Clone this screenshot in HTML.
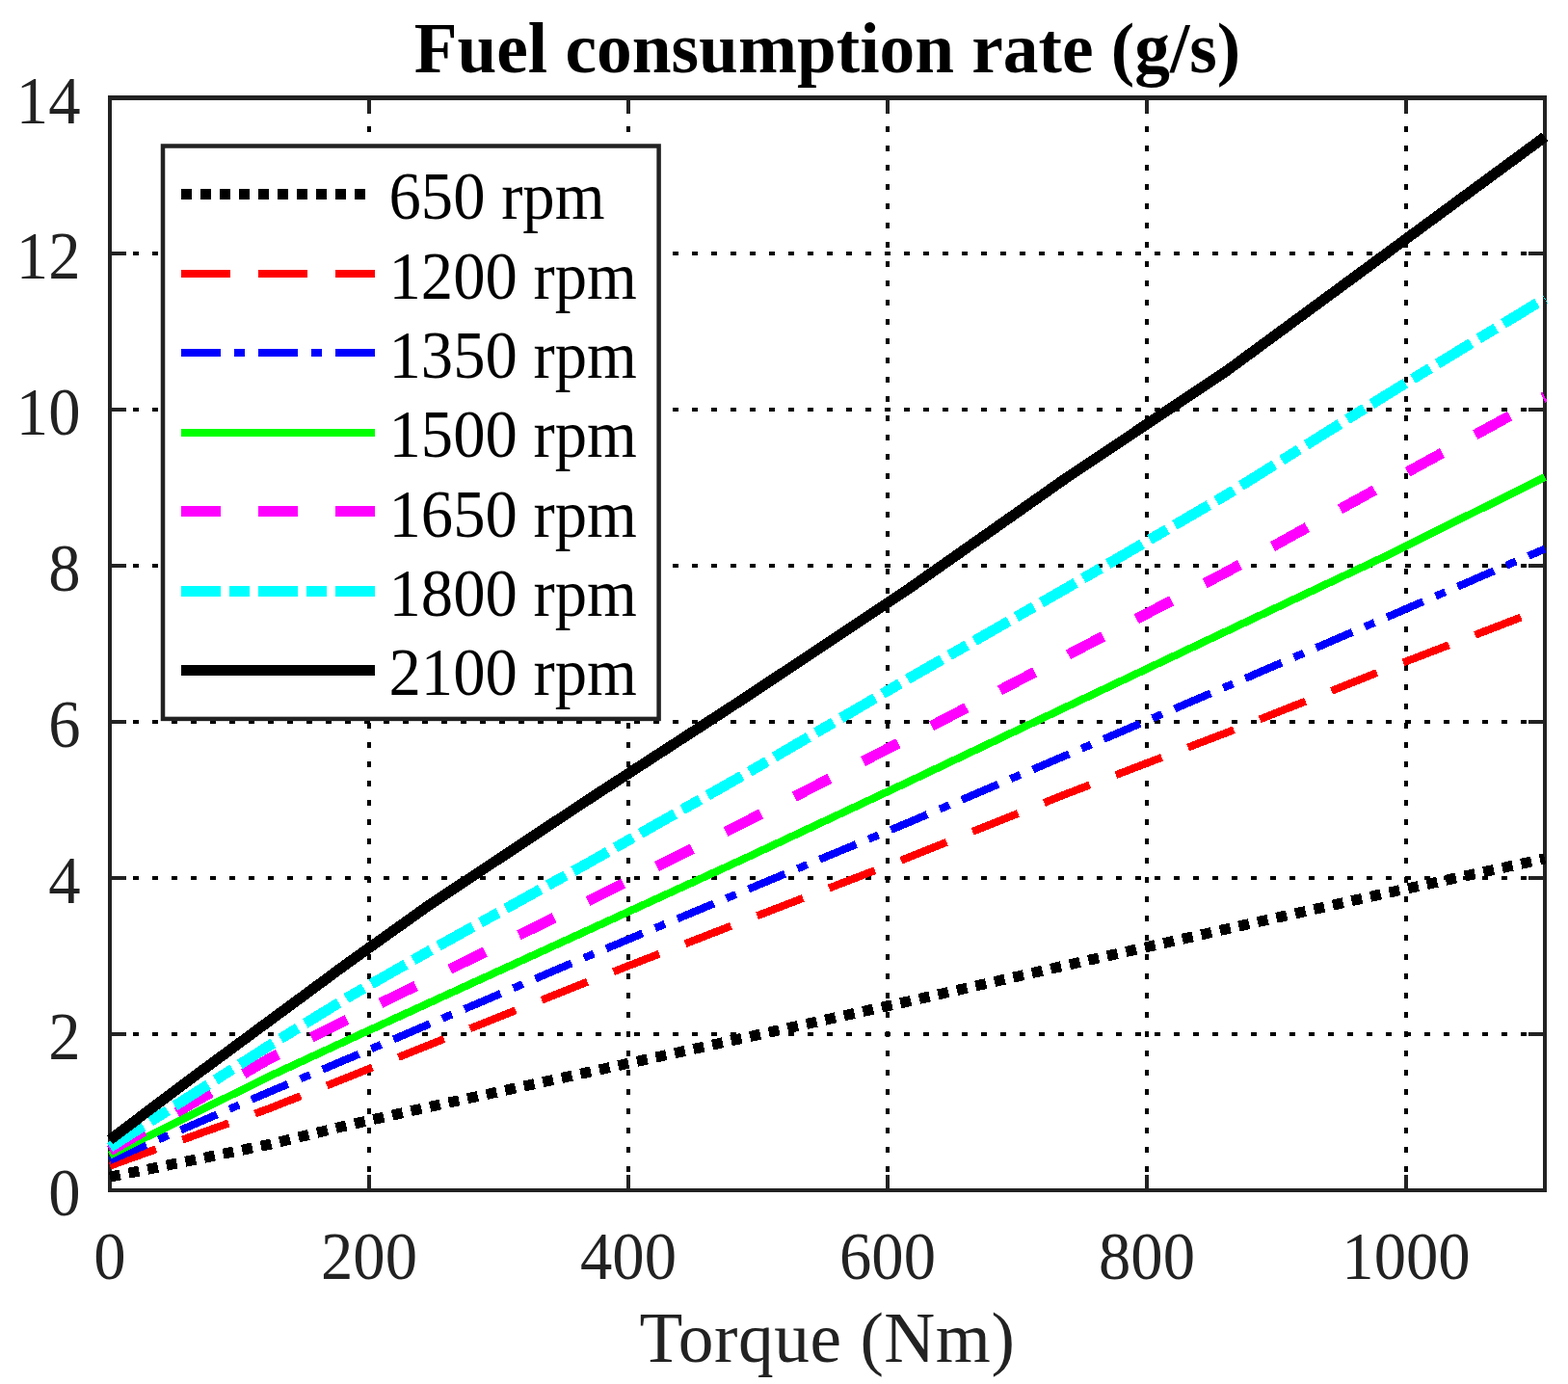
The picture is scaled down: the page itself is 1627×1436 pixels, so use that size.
<!DOCTYPE html>
<html><head><meta charset="utf-8"><title>Fuel consumption rate (g/s)</title>
<style>
html,body{margin:0;padding:0;background:#fff;}
body{width:1627px;height:1436px;overflow:hidden;}
svg{display:block;}
text{font-family:"Liberation Serif","Times New Roman",serif;}
</style></head><body>
<svg width="1627" height="1436" viewBox="0 0 1627 1436">
<rect x="0" y="0" width="1627" height="1436" fill="#ffffff"/>
<g fill="#000" shape-rendering="crispEdges">
<rect x="381" y="131" width="4" height="6"/>
<rect x="381" y="151" width="4" height="6"/>
<rect x="381" y="171" width="4" height="6"/>
<rect x="381" y="191" width="4" height="6"/>
<rect x="381" y="211" width="4" height="6"/>
<rect x="381" y="231" width="4" height="6"/>
<rect x="381" y="251" width="4" height="6"/>
<rect x="381" y="271" width="4" height="6"/>
<rect x="381" y="291" width="4" height="6"/>
<rect x="381" y="311" width="4" height="6"/>
<rect x="381" y="331" width="4" height="6"/>
<rect x="381" y="351" width="4" height="6"/>
<rect x="381" y="371" width="4" height="6"/>
<rect x="381" y="391" width="4" height="6"/>
<rect x="381" y="411" width="4" height="6"/>
<rect x="381" y="431" width="4" height="6"/>
<rect x="381" y="451" width="4" height="6"/>
<rect x="381" y="471" width="4" height="6"/>
<rect x="381" y="491" width="4" height="6"/>
<rect x="381" y="511" width="4" height="6"/>
<rect x="381" y="531" width="4" height="6"/>
<rect x="381" y="551" width="4" height="6"/>
<rect x="381" y="571" width="4" height="6"/>
<rect x="381" y="590" width="4" height="6"/>
<rect x="381" y="610" width="4" height="6"/>
<rect x="381" y="630" width="4" height="6"/>
<rect x="381" y="650" width="4" height="6"/>
<rect x="381" y="670" width="4" height="6"/>
<rect x="381" y="690" width="4" height="6"/>
<rect x="381" y="710" width="4" height="6"/>
<rect x="381" y="730" width="4" height="6"/>
<rect x="381" y="750" width="4" height="6"/>
<rect x="381" y="770" width="4" height="6"/>
<rect x="381" y="790" width="4" height="6"/>
<rect x="381" y="810" width="4" height="6"/>
<rect x="381" y="830" width="4" height="6"/>
<rect x="381" y="850" width="4" height="6"/>
<rect x="381" y="870" width="4" height="6"/>
<rect x="381" y="890" width="4" height="6"/>
<rect x="381" y="910" width="4" height="6"/>
<rect x="381" y="930" width="4" height="6"/>
<rect x="381" y="950" width="4" height="6"/>
<rect x="381" y="970" width="4" height="6"/>
<rect x="381" y="990" width="4" height="6"/>
<rect x="381" y="1010" width="4" height="6"/>
<rect x="381" y="1030" width="4" height="6"/>
<rect x="381" y="1050" width="4" height="6"/>
<rect x="381" y="1070" width="4" height="6"/>
<rect x="381" y="1090" width="4" height="6"/>
<rect x="381" y="1110" width="4" height="6"/>
<rect x="381" y="1130" width="4" height="6"/>
<rect x="381" y="1150" width="4" height="6"/>
<rect x="381" y="1170" width="4" height="6"/>
<rect x="381" y="1190" width="4" height="6"/>
<rect x="381" y="1210" width="4" height="6"/>
<rect x="650" y="131" width="4" height="6"/>
<rect x="650" y="151" width="4" height="6"/>
<rect x="650" y="171" width="4" height="6"/>
<rect x="650" y="191" width="4" height="6"/>
<rect x="650" y="211" width="4" height="6"/>
<rect x="650" y="231" width="4" height="6"/>
<rect x="650" y="251" width="4" height="6"/>
<rect x="650" y="271" width="4" height="6"/>
<rect x="650" y="291" width="4" height="6"/>
<rect x="650" y="311" width="4" height="6"/>
<rect x="650" y="331" width="4" height="6"/>
<rect x="650" y="351" width="4" height="6"/>
<rect x="650" y="371" width="4" height="6"/>
<rect x="650" y="391" width="4" height="6"/>
<rect x="650" y="411" width="4" height="6"/>
<rect x="650" y="431" width="4" height="6"/>
<rect x="650" y="451" width="4" height="6"/>
<rect x="650" y="471" width="4" height="6"/>
<rect x="650" y="491" width="4" height="6"/>
<rect x="650" y="511" width="4" height="6"/>
<rect x="650" y="531" width="4" height="6"/>
<rect x="650" y="551" width="4" height="6"/>
<rect x="650" y="571" width="4" height="6"/>
<rect x="650" y="590" width="4" height="6"/>
<rect x="650" y="610" width="4" height="6"/>
<rect x="650" y="630" width="4" height="6"/>
<rect x="650" y="650" width="4" height="6"/>
<rect x="650" y="670" width="4" height="6"/>
<rect x="650" y="690" width="4" height="6"/>
<rect x="650" y="710" width="4" height="6"/>
<rect x="650" y="730" width="4" height="6"/>
<rect x="650" y="750" width="4" height="6"/>
<rect x="650" y="770" width="4" height="6"/>
<rect x="650" y="790" width="4" height="6"/>
<rect x="650" y="810" width="4" height="6"/>
<rect x="650" y="830" width="4" height="6"/>
<rect x="650" y="850" width="4" height="6"/>
<rect x="650" y="870" width="4" height="6"/>
<rect x="650" y="890" width="4" height="6"/>
<rect x="650" y="910" width="4" height="6"/>
<rect x="650" y="930" width="4" height="6"/>
<rect x="650" y="950" width="4" height="6"/>
<rect x="650" y="970" width="4" height="6"/>
<rect x="650" y="990" width="4" height="6"/>
<rect x="650" y="1010" width="4" height="6"/>
<rect x="650" y="1030" width="4" height="6"/>
<rect x="650" y="1050" width="4" height="6"/>
<rect x="650" y="1070" width="4" height="6"/>
<rect x="650" y="1090" width="4" height="6"/>
<rect x="650" y="1110" width="4" height="6"/>
<rect x="650" y="1130" width="4" height="6"/>
<rect x="650" y="1150" width="4" height="6"/>
<rect x="650" y="1170" width="4" height="6"/>
<rect x="650" y="1190" width="4" height="6"/>
<rect x="650" y="1210" width="4" height="6"/>
<rect x="919" y="131" width="4" height="6"/>
<rect x="919" y="151" width="4" height="6"/>
<rect x="919" y="171" width="4" height="6"/>
<rect x="919" y="191" width="4" height="6"/>
<rect x="919" y="211" width="4" height="6"/>
<rect x="919" y="231" width="4" height="6"/>
<rect x="919" y="251" width="4" height="6"/>
<rect x="919" y="271" width="4" height="6"/>
<rect x="919" y="291" width="4" height="6"/>
<rect x="919" y="311" width="4" height="6"/>
<rect x="919" y="331" width="4" height="6"/>
<rect x="919" y="351" width="4" height="6"/>
<rect x="919" y="371" width="4" height="6"/>
<rect x="919" y="391" width="4" height="6"/>
<rect x="919" y="411" width="4" height="6"/>
<rect x="919" y="431" width="4" height="6"/>
<rect x="919" y="451" width="4" height="6"/>
<rect x="919" y="471" width="4" height="6"/>
<rect x="919" y="491" width="4" height="6"/>
<rect x="919" y="511" width="4" height="6"/>
<rect x="919" y="531" width="4" height="6"/>
<rect x="919" y="551" width="4" height="6"/>
<rect x="919" y="571" width="4" height="6"/>
<rect x="919" y="590" width="4" height="6"/>
<rect x="919" y="610" width="4" height="6"/>
<rect x="919" y="630" width="4" height="6"/>
<rect x="919" y="650" width="4" height="6"/>
<rect x="919" y="670" width="4" height="6"/>
<rect x="919" y="690" width="4" height="6"/>
<rect x="919" y="710" width="4" height="6"/>
<rect x="919" y="730" width="4" height="6"/>
<rect x="919" y="750" width="4" height="6"/>
<rect x="919" y="770" width="4" height="6"/>
<rect x="919" y="790" width="4" height="6"/>
<rect x="919" y="810" width="4" height="6"/>
<rect x="919" y="830" width="4" height="6"/>
<rect x="919" y="850" width="4" height="6"/>
<rect x="919" y="870" width="4" height="6"/>
<rect x="919" y="890" width="4" height="6"/>
<rect x="919" y="910" width="4" height="6"/>
<rect x="919" y="930" width="4" height="6"/>
<rect x="919" y="950" width="4" height="6"/>
<rect x="919" y="970" width="4" height="6"/>
<rect x="919" y="990" width="4" height="6"/>
<rect x="919" y="1010" width="4" height="6"/>
<rect x="919" y="1030" width="4" height="6"/>
<rect x="919" y="1050" width="4" height="6"/>
<rect x="919" y="1070" width="4" height="6"/>
<rect x="919" y="1090" width="4" height="6"/>
<rect x="919" y="1110" width="4" height="6"/>
<rect x="919" y="1130" width="4" height="6"/>
<rect x="919" y="1150" width="4" height="6"/>
<rect x="919" y="1170" width="4" height="6"/>
<rect x="919" y="1190" width="4" height="6"/>
<rect x="919" y="1210" width="4" height="6"/>
<rect x="1188" y="131" width="4" height="6"/>
<rect x="1188" y="151" width="4" height="6"/>
<rect x="1188" y="171" width="4" height="6"/>
<rect x="1188" y="191" width="4" height="6"/>
<rect x="1188" y="211" width="4" height="6"/>
<rect x="1188" y="231" width="4" height="6"/>
<rect x="1188" y="251" width="4" height="6"/>
<rect x="1188" y="271" width="4" height="6"/>
<rect x="1188" y="291" width="4" height="6"/>
<rect x="1188" y="311" width="4" height="6"/>
<rect x="1188" y="331" width="4" height="6"/>
<rect x="1188" y="351" width="4" height="6"/>
<rect x="1188" y="371" width="4" height="6"/>
<rect x="1188" y="391" width="4" height="6"/>
<rect x="1188" y="411" width="4" height="6"/>
<rect x="1188" y="431" width="4" height="6"/>
<rect x="1188" y="451" width="4" height="6"/>
<rect x="1188" y="471" width="4" height="6"/>
<rect x="1188" y="491" width="4" height="6"/>
<rect x="1188" y="511" width="4" height="6"/>
<rect x="1188" y="531" width="4" height="6"/>
<rect x="1188" y="551" width="4" height="6"/>
<rect x="1188" y="571" width="4" height="6"/>
<rect x="1188" y="590" width="4" height="6"/>
<rect x="1188" y="610" width="4" height="6"/>
<rect x="1188" y="630" width="4" height="6"/>
<rect x="1188" y="650" width="4" height="6"/>
<rect x="1188" y="670" width="4" height="6"/>
<rect x="1188" y="690" width="4" height="6"/>
<rect x="1188" y="710" width="4" height="6"/>
<rect x="1188" y="730" width="4" height="6"/>
<rect x="1188" y="750" width="4" height="6"/>
<rect x="1188" y="770" width="4" height="6"/>
<rect x="1188" y="790" width="4" height="6"/>
<rect x="1188" y="810" width="4" height="6"/>
<rect x="1188" y="830" width="4" height="6"/>
<rect x="1188" y="850" width="4" height="6"/>
<rect x="1188" y="870" width="4" height="6"/>
<rect x="1188" y="890" width="4" height="6"/>
<rect x="1188" y="910" width="4" height="6"/>
<rect x="1188" y="930" width="4" height="6"/>
<rect x="1188" y="950" width="4" height="6"/>
<rect x="1188" y="970" width="4" height="6"/>
<rect x="1188" y="990" width="4" height="6"/>
<rect x="1188" y="1010" width="4" height="6"/>
<rect x="1188" y="1030" width="4" height="6"/>
<rect x="1188" y="1050" width="4" height="6"/>
<rect x="1188" y="1070" width="4" height="6"/>
<rect x="1188" y="1090" width="4" height="6"/>
<rect x="1188" y="1110" width="4" height="6"/>
<rect x="1188" y="1130" width="4" height="6"/>
<rect x="1188" y="1150" width="4" height="6"/>
<rect x="1188" y="1170" width="4" height="6"/>
<rect x="1188" y="1190" width="4" height="6"/>
<rect x="1188" y="1210" width="4" height="6"/>
<rect x="1457" y="131" width="4" height="6"/>
<rect x="1457" y="151" width="4" height="6"/>
<rect x="1457" y="171" width="4" height="6"/>
<rect x="1457" y="191" width="4" height="6"/>
<rect x="1457" y="211" width="4" height="6"/>
<rect x="1457" y="231" width="4" height="6"/>
<rect x="1457" y="251" width="4" height="6"/>
<rect x="1457" y="271" width="4" height="6"/>
<rect x="1457" y="291" width="4" height="6"/>
<rect x="1457" y="311" width="4" height="6"/>
<rect x="1457" y="331" width="4" height="6"/>
<rect x="1457" y="351" width="4" height="6"/>
<rect x="1457" y="371" width="4" height="6"/>
<rect x="1457" y="391" width="4" height="6"/>
<rect x="1457" y="411" width="4" height="6"/>
<rect x="1457" y="431" width="4" height="6"/>
<rect x="1457" y="451" width="4" height="6"/>
<rect x="1457" y="471" width="4" height="6"/>
<rect x="1457" y="491" width="4" height="6"/>
<rect x="1457" y="511" width="4" height="6"/>
<rect x="1457" y="531" width="4" height="6"/>
<rect x="1457" y="551" width="4" height="6"/>
<rect x="1457" y="571" width="4" height="6"/>
<rect x="1457" y="590" width="4" height="6"/>
<rect x="1457" y="610" width="4" height="6"/>
<rect x="1457" y="630" width="4" height="6"/>
<rect x="1457" y="650" width="4" height="6"/>
<rect x="1457" y="670" width="4" height="6"/>
<rect x="1457" y="690" width="4" height="6"/>
<rect x="1457" y="710" width="4" height="6"/>
<rect x="1457" y="730" width="4" height="6"/>
<rect x="1457" y="750" width="4" height="6"/>
<rect x="1457" y="770" width="4" height="6"/>
<rect x="1457" y="790" width="4" height="6"/>
<rect x="1457" y="810" width="4" height="6"/>
<rect x="1457" y="830" width="4" height="6"/>
<rect x="1457" y="850" width="4" height="6"/>
<rect x="1457" y="870" width="4" height="6"/>
<rect x="1457" y="890" width="4" height="6"/>
<rect x="1457" y="910" width="4" height="6"/>
<rect x="1457" y="930" width="4" height="6"/>
<rect x="1457" y="950" width="4" height="6"/>
<rect x="1457" y="970" width="4" height="6"/>
<rect x="1457" y="990" width="4" height="6"/>
<rect x="1457" y="1010" width="4" height="6"/>
<rect x="1457" y="1030" width="4" height="6"/>
<rect x="1457" y="1050" width="4" height="6"/>
<rect x="1457" y="1070" width="4" height="6"/>
<rect x="1457" y="1090" width="4" height="6"/>
<rect x="1457" y="1110" width="4" height="6"/>
<rect x="1457" y="1130" width="4" height="6"/>
<rect x="1457" y="1150" width="4" height="6"/>
<rect x="1457" y="1170" width="4" height="6"/>
<rect x="1457" y="1190" width="4" height="6"/>
<rect x="1457" y="1210" width="4" height="6"/>
<rect x="138" y="1071" width="6" height="4"/>
<rect x="158" y="1071" width="6" height="4"/>
<rect x="178" y="1071" width="6" height="4"/>
<rect x="198" y="1071" width="6" height="4"/>
<rect x="218" y="1071" width="6" height="4"/>
<rect x="238" y="1071" width="6" height="4"/>
<rect x="258" y="1071" width="6" height="4"/>
<rect x="278" y="1071" width="6" height="4"/>
<rect x="298" y="1071" width="6" height="4"/>
<rect x="318" y="1071" width="6" height="4"/>
<rect x="338" y="1071" width="6" height="4"/>
<rect x="358" y="1071" width="6" height="4"/>
<rect x="378" y="1071" width="6" height="4"/>
<rect x="398" y="1071" width="6" height="4"/>
<rect x="418" y="1071" width="6" height="4"/>
<rect x="438" y="1071" width="6" height="4"/>
<rect x="458" y="1071" width="6" height="4"/>
<rect x="478" y="1071" width="6" height="4"/>
<rect x="498" y="1071" width="6" height="4"/>
<rect x="518" y="1071" width="6" height="4"/>
<rect x="538" y="1071" width="6" height="4"/>
<rect x="558" y="1071" width="6" height="4"/>
<rect x="578" y="1071" width="6" height="4"/>
<rect x="598" y="1071" width="6" height="4"/>
<rect x="618" y="1071" width="6" height="4"/>
<rect x="638" y="1071" width="6" height="4"/>
<rect x="658" y="1071" width="6" height="4"/>
<rect x="678" y="1071" width="6" height="4"/>
<rect x="698" y="1071" width="6" height="4"/>
<rect x="718" y="1071" width="6" height="4"/>
<rect x="738" y="1071" width="6" height="4"/>
<rect x="758" y="1071" width="6" height="4"/>
<rect x="778" y="1071" width="6" height="4"/>
<rect x="798" y="1071" width="6" height="4"/>
<rect x="818" y="1071" width="6" height="4"/>
<rect x="838" y="1071" width="6" height="4"/>
<rect x="858" y="1071" width="6" height="4"/>
<rect x="878" y="1071" width="6" height="4"/>
<rect x="898" y="1071" width="6" height="4"/>
<rect x="918" y="1071" width="6" height="4"/>
<rect x="938" y="1071" width="6" height="4"/>
<rect x="958" y="1071" width="6" height="4"/>
<rect x="978" y="1071" width="6" height="4"/>
<rect x="998" y="1071" width="6" height="4"/>
<rect x="1018" y="1071" width="6" height="4"/>
<rect x="1038" y="1071" width="6" height="4"/>
<rect x="1058" y="1071" width="6" height="4"/>
<rect x="1078" y="1071" width="6" height="4"/>
<rect x="1098" y="1071" width="6" height="4"/>
<rect x="1118" y="1071" width="6" height="4"/>
<rect x="1138" y="1071" width="6" height="4"/>
<rect x="1158" y="1071" width="6" height="4"/>
<rect x="1178" y="1071" width="6" height="4"/>
<rect x="1198" y="1071" width="6" height="4"/>
<rect x="1218" y="1071" width="6" height="4"/>
<rect x="1238" y="1071" width="6" height="4"/>
<rect x="1258" y="1071" width="6" height="4"/>
<rect x="1278" y="1071" width="6" height="4"/>
<rect x="1298" y="1071" width="6" height="4"/>
<rect x="1318" y="1071" width="6" height="4"/>
<rect x="1338" y="1071" width="6" height="4"/>
<rect x="1358" y="1071" width="6" height="4"/>
<rect x="1378" y="1071" width="6" height="4"/>
<rect x="1398" y="1071" width="6" height="4"/>
<rect x="1418" y="1071" width="6" height="4"/>
<rect x="1438" y="1071" width="6" height="4"/>
<rect x="1458" y="1071" width="6" height="4"/>
<rect x="1478" y="1071" width="6" height="4"/>
<rect x="1498" y="1071" width="6" height="4"/>
<rect x="1518" y="1071" width="6" height="4"/>
<rect x="1538" y="1071" width="6" height="4"/>
<rect x="1558" y="1071" width="6" height="4"/>
<rect x="1578" y="1071" width="6" height="4"/>
<rect x="138" y="909" width="6" height="4"/>
<rect x="158" y="909" width="6" height="4"/>
<rect x="178" y="909" width="6" height="4"/>
<rect x="198" y="909" width="6" height="4"/>
<rect x="218" y="909" width="6" height="4"/>
<rect x="238" y="909" width="6" height="4"/>
<rect x="258" y="909" width="6" height="4"/>
<rect x="278" y="909" width="6" height="4"/>
<rect x="298" y="909" width="6" height="4"/>
<rect x="318" y="909" width="6" height="4"/>
<rect x="338" y="909" width="6" height="4"/>
<rect x="358" y="909" width="6" height="4"/>
<rect x="378" y="909" width="6" height="4"/>
<rect x="398" y="909" width="6" height="4"/>
<rect x="418" y="909" width="6" height="4"/>
<rect x="438" y="909" width="6" height="4"/>
<rect x="458" y="909" width="6" height="4"/>
<rect x="478" y="909" width="6" height="4"/>
<rect x="498" y="909" width="6" height="4"/>
<rect x="518" y="909" width="6" height="4"/>
<rect x="538" y="909" width="6" height="4"/>
<rect x="558" y="909" width="6" height="4"/>
<rect x="578" y="909" width="6" height="4"/>
<rect x="598" y="909" width="6" height="4"/>
<rect x="618" y="909" width="6" height="4"/>
<rect x="638" y="909" width="6" height="4"/>
<rect x="658" y="909" width="6" height="4"/>
<rect x="678" y="909" width="6" height="4"/>
<rect x="698" y="909" width="6" height="4"/>
<rect x="718" y="909" width="6" height="4"/>
<rect x="738" y="909" width="6" height="4"/>
<rect x="758" y="909" width="6" height="4"/>
<rect x="778" y="909" width="6" height="4"/>
<rect x="798" y="909" width="6" height="4"/>
<rect x="818" y="909" width="6" height="4"/>
<rect x="838" y="909" width="6" height="4"/>
<rect x="858" y="909" width="6" height="4"/>
<rect x="878" y="909" width="6" height="4"/>
<rect x="898" y="909" width="6" height="4"/>
<rect x="918" y="909" width="6" height="4"/>
<rect x="938" y="909" width="6" height="4"/>
<rect x="958" y="909" width="6" height="4"/>
<rect x="978" y="909" width="6" height="4"/>
<rect x="998" y="909" width="6" height="4"/>
<rect x="1018" y="909" width="6" height="4"/>
<rect x="1038" y="909" width="6" height="4"/>
<rect x="1058" y="909" width="6" height="4"/>
<rect x="1078" y="909" width="6" height="4"/>
<rect x="1098" y="909" width="6" height="4"/>
<rect x="1118" y="909" width="6" height="4"/>
<rect x="1138" y="909" width="6" height="4"/>
<rect x="1158" y="909" width="6" height="4"/>
<rect x="1178" y="909" width="6" height="4"/>
<rect x="1198" y="909" width="6" height="4"/>
<rect x="1218" y="909" width="6" height="4"/>
<rect x="1238" y="909" width="6" height="4"/>
<rect x="1258" y="909" width="6" height="4"/>
<rect x="1278" y="909" width="6" height="4"/>
<rect x="1298" y="909" width="6" height="4"/>
<rect x="1318" y="909" width="6" height="4"/>
<rect x="1338" y="909" width="6" height="4"/>
<rect x="1358" y="909" width="6" height="4"/>
<rect x="1378" y="909" width="6" height="4"/>
<rect x="1398" y="909" width="6" height="4"/>
<rect x="1418" y="909" width="6" height="4"/>
<rect x="1438" y="909" width="6" height="4"/>
<rect x="1458" y="909" width="6" height="4"/>
<rect x="1478" y="909" width="6" height="4"/>
<rect x="1498" y="909" width="6" height="4"/>
<rect x="1518" y="909" width="6" height="4"/>
<rect x="1538" y="909" width="6" height="4"/>
<rect x="1558" y="909" width="6" height="4"/>
<rect x="1578" y="909" width="6" height="4"/>
<rect x="138" y="747" width="6" height="4"/>
<rect x="158" y="747" width="6" height="4"/>
<rect x="178" y="747" width="6" height="4"/>
<rect x="198" y="747" width="6" height="4"/>
<rect x="218" y="747" width="6" height="4"/>
<rect x="238" y="747" width="6" height="4"/>
<rect x="258" y="747" width="6" height="4"/>
<rect x="278" y="747" width="6" height="4"/>
<rect x="298" y="747" width="6" height="4"/>
<rect x="318" y="747" width="6" height="4"/>
<rect x="338" y="747" width="6" height="4"/>
<rect x="358" y="747" width="6" height="4"/>
<rect x="378" y="747" width="6" height="4"/>
<rect x="398" y="747" width="6" height="4"/>
<rect x="418" y="747" width="6" height="4"/>
<rect x="438" y="747" width="6" height="4"/>
<rect x="458" y="747" width="6" height="4"/>
<rect x="478" y="747" width="6" height="4"/>
<rect x="498" y="747" width="6" height="4"/>
<rect x="518" y="747" width="6" height="4"/>
<rect x="538" y="747" width="6" height="4"/>
<rect x="558" y="747" width="6" height="4"/>
<rect x="578" y="747" width="6" height="4"/>
<rect x="598" y="747" width="6" height="4"/>
<rect x="618" y="747" width="6" height="4"/>
<rect x="638" y="747" width="6" height="4"/>
<rect x="658" y="747" width="6" height="4"/>
<rect x="678" y="747" width="6" height="4"/>
<rect x="698" y="747" width="6" height="4"/>
<rect x="718" y="747" width="6" height="4"/>
<rect x="738" y="747" width="6" height="4"/>
<rect x="758" y="747" width="6" height="4"/>
<rect x="778" y="747" width="6" height="4"/>
<rect x="798" y="747" width="6" height="4"/>
<rect x="818" y="747" width="6" height="4"/>
<rect x="838" y="747" width="6" height="4"/>
<rect x="858" y="747" width="6" height="4"/>
<rect x="878" y="747" width="6" height="4"/>
<rect x="898" y="747" width="6" height="4"/>
<rect x="918" y="747" width="6" height="4"/>
<rect x="938" y="747" width="6" height="4"/>
<rect x="958" y="747" width="6" height="4"/>
<rect x="978" y="747" width="6" height="4"/>
<rect x="998" y="747" width="6" height="4"/>
<rect x="1018" y="747" width="6" height="4"/>
<rect x="1038" y="747" width="6" height="4"/>
<rect x="1058" y="747" width="6" height="4"/>
<rect x="1078" y="747" width="6" height="4"/>
<rect x="1098" y="747" width="6" height="4"/>
<rect x="1118" y="747" width="6" height="4"/>
<rect x="1138" y="747" width="6" height="4"/>
<rect x="1158" y="747" width="6" height="4"/>
<rect x="1178" y="747" width="6" height="4"/>
<rect x="1198" y="747" width="6" height="4"/>
<rect x="1218" y="747" width="6" height="4"/>
<rect x="1238" y="747" width="6" height="4"/>
<rect x="1258" y="747" width="6" height="4"/>
<rect x="1278" y="747" width="6" height="4"/>
<rect x="1298" y="747" width="6" height="4"/>
<rect x="1318" y="747" width="6" height="4"/>
<rect x="1338" y="747" width="6" height="4"/>
<rect x="1358" y="747" width="6" height="4"/>
<rect x="1378" y="747" width="6" height="4"/>
<rect x="1398" y="747" width="6" height="4"/>
<rect x="1418" y="747" width="6" height="4"/>
<rect x="1438" y="747" width="6" height="4"/>
<rect x="1458" y="747" width="6" height="4"/>
<rect x="1478" y="747" width="6" height="4"/>
<rect x="1498" y="747" width="6" height="4"/>
<rect x="1518" y="747" width="6" height="4"/>
<rect x="1538" y="747" width="6" height="4"/>
<rect x="1558" y="747" width="6" height="4"/>
<rect x="1578" y="747" width="6" height="4"/>
<rect x="138" y="585" width="6" height="4"/>
<rect x="158" y="585" width="6" height="4"/>
<rect x="178" y="585" width="6" height="4"/>
<rect x="198" y="585" width="6" height="4"/>
<rect x="218" y="585" width="6" height="4"/>
<rect x="238" y="585" width="6" height="4"/>
<rect x="258" y="585" width="6" height="4"/>
<rect x="278" y="585" width="6" height="4"/>
<rect x="298" y="585" width="6" height="4"/>
<rect x="318" y="585" width="6" height="4"/>
<rect x="338" y="585" width="6" height="4"/>
<rect x="358" y="585" width="6" height="4"/>
<rect x="378" y="585" width="6" height="4"/>
<rect x="398" y="585" width="6" height="4"/>
<rect x="418" y="585" width="6" height="4"/>
<rect x="438" y="585" width="6" height="4"/>
<rect x="458" y="585" width="6" height="4"/>
<rect x="478" y="585" width="6" height="4"/>
<rect x="498" y="585" width="6" height="4"/>
<rect x="518" y="585" width="6" height="4"/>
<rect x="538" y="585" width="6" height="4"/>
<rect x="558" y="585" width="6" height="4"/>
<rect x="578" y="585" width="6" height="4"/>
<rect x="598" y="585" width="6" height="4"/>
<rect x="618" y="585" width="6" height="4"/>
<rect x="638" y="585" width="6" height="4"/>
<rect x="658" y="585" width="6" height="4"/>
<rect x="678" y="585" width="6" height="4"/>
<rect x="698" y="585" width="6" height="4"/>
<rect x="718" y="585" width="6" height="4"/>
<rect x="738" y="585" width="6" height="4"/>
<rect x="758" y="585" width="6" height="4"/>
<rect x="778" y="585" width="6" height="4"/>
<rect x="798" y="585" width="6" height="4"/>
<rect x="818" y="585" width="6" height="4"/>
<rect x="838" y="585" width="6" height="4"/>
<rect x="858" y="585" width="6" height="4"/>
<rect x="878" y="585" width="6" height="4"/>
<rect x="898" y="585" width="6" height="4"/>
<rect x="918" y="585" width="6" height="4"/>
<rect x="938" y="585" width="6" height="4"/>
<rect x="958" y="585" width="6" height="4"/>
<rect x="978" y="585" width="6" height="4"/>
<rect x="998" y="585" width="6" height="4"/>
<rect x="1018" y="585" width="6" height="4"/>
<rect x="1038" y="585" width="6" height="4"/>
<rect x="1058" y="585" width="6" height="4"/>
<rect x="1078" y="585" width="6" height="4"/>
<rect x="1098" y="585" width="6" height="4"/>
<rect x="1118" y="585" width="6" height="4"/>
<rect x="1138" y="585" width="6" height="4"/>
<rect x="1158" y="585" width="6" height="4"/>
<rect x="1178" y="585" width="6" height="4"/>
<rect x="1198" y="585" width="6" height="4"/>
<rect x="1218" y="585" width="6" height="4"/>
<rect x="1238" y="585" width="6" height="4"/>
<rect x="1258" y="585" width="6" height="4"/>
<rect x="1278" y="585" width="6" height="4"/>
<rect x="1298" y="585" width="6" height="4"/>
<rect x="1318" y="585" width="6" height="4"/>
<rect x="1338" y="585" width="6" height="4"/>
<rect x="1358" y="585" width="6" height="4"/>
<rect x="1378" y="585" width="6" height="4"/>
<rect x="1398" y="585" width="6" height="4"/>
<rect x="1418" y="585" width="6" height="4"/>
<rect x="1438" y="585" width="6" height="4"/>
<rect x="1458" y="585" width="6" height="4"/>
<rect x="1478" y="585" width="6" height="4"/>
<rect x="1498" y="585" width="6" height="4"/>
<rect x="1518" y="585" width="6" height="4"/>
<rect x="1538" y="585" width="6" height="4"/>
<rect x="1558" y="585" width="6" height="4"/>
<rect x="1578" y="585" width="6" height="4"/>
<rect x="138" y="423" width="6" height="4"/>
<rect x="158" y="423" width="6" height="4"/>
<rect x="178" y="423" width="6" height="4"/>
<rect x="198" y="423" width="6" height="4"/>
<rect x="218" y="423" width="6" height="4"/>
<rect x="238" y="423" width="6" height="4"/>
<rect x="258" y="423" width="6" height="4"/>
<rect x="278" y="423" width="6" height="4"/>
<rect x="298" y="423" width="6" height="4"/>
<rect x="318" y="423" width="6" height="4"/>
<rect x="338" y="423" width="6" height="4"/>
<rect x="358" y="423" width="6" height="4"/>
<rect x="378" y="423" width="6" height="4"/>
<rect x="398" y="423" width="6" height="4"/>
<rect x="418" y="423" width="6" height="4"/>
<rect x="438" y="423" width="6" height="4"/>
<rect x="458" y="423" width="6" height="4"/>
<rect x="478" y="423" width="6" height="4"/>
<rect x="498" y="423" width="6" height="4"/>
<rect x="518" y="423" width="6" height="4"/>
<rect x="538" y="423" width="6" height="4"/>
<rect x="558" y="423" width="6" height="4"/>
<rect x="578" y="423" width="6" height="4"/>
<rect x="598" y="423" width="6" height="4"/>
<rect x="618" y="423" width="6" height="4"/>
<rect x="638" y="423" width="6" height="4"/>
<rect x="658" y="423" width="6" height="4"/>
<rect x="678" y="423" width="6" height="4"/>
<rect x="698" y="423" width="6" height="4"/>
<rect x="718" y="423" width="6" height="4"/>
<rect x="738" y="423" width="6" height="4"/>
<rect x="758" y="423" width="6" height="4"/>
<rect x="778" y="423" width="6" height="4"/>
<rect x="798" y="423" width="6" height="4"/>
<rect x="818" y="423" width="6" height="4"/>
<rect x="838" y="423" width="6" height="4"/>
<rect x="858" y="423" width="6" height="4"/>
<rect x="878" y="423" width="6" height="4"/>
<rect x="898" y="423" width="6" height="4"/>
<rect x="918" y="423" width="6" height="4"/>
<rect x="938" y="423" width="6" height="4"/>
<rect x="958" y="423" width="6" height="4"/>
<rect x="978" y="423" width="6" height="4"/>
<rect x="998" y="423" width="6" height="4"/>
<rect x="1018" y="423" width="6" height="4"/>
<rect x="1038" y="423" width="6" height="4"/>
<rect x="1058" y="423" width="6" height="4"/>
<rect x="1078" y="423" width="6" height="4"/>
<rect x="1098" y="423" width="6" height="4"/>
<rect x="1118" y="423" width="6" height="4"/>
<rect x="1138" y="423" width="6" height="4"/>
<rect x="1158" y="423" width="6" height="4"/>
<rect x="1178" y="423" width="6" height="4"/>
<rect x="1198" y="423" width="6" height="4"/>
<rect x="1218" y="423" width="6" height="4"/>
<rect x="1238" y="423" width="6" height="4"/>
<rect x="1258" y="423" width="6" height="4"/>
<rect x="1278" y="423" width="6" height="4"/>
<rect x="1298" y="423" width="6" height="4"/>
<rect x="1318" y="423" width="6" height="4"/>
<rect x="1338" y="423" width="6" height="4"/>
<rect x="1358" y="423" width="6" height="4"/>
<rect x="1378" y="423" width="6" height="4"/>
<rect x="1398" y="423" width="6" height="4"/>
<rect x="1418" y="423" width="6" height="4"/>
<rect x="1438" y="423" width="6" height="4"/>
<rect x="1458" y="423" width="6" height="4"/>
<rect x="1478" y="423" width="6" height="4"/>
<rect x="1498" y="423" width="6" height="4"/>
<rect x="1518" y="423" width="6" height="4"/>
<rect x="1538" y="423" width="6" height="4"/>
<rect x="1558" y="423" width="6" height="4"/>
<rect x="1578" y="423" width="6" height="4"/>
<rect x="138" y="261" width="6" height="4"/>
<rect x="158" y="261" width="6" height="4"/>
<rect x="178" y="261" width="6" height="4"/>
<rect x="198" y="261" width="6" height="4"/>
<rect x="218" y="261" width="6" height="4"/>
<rect x="238" y="261" width="6" height="4"/>
<rect x="258" y="261" width="6" height="4"/>
<rect x="278" y="261" width="6" height="4"/>
<rect x="298" y="261" width="6" height="4"/>
<rect x="318" y="261" width="6" height="4"/>
<rect x="338" y="261" width="6" height="4"/>
<rect x="358" y="261" width="6" height="4"/>
<rect x="378" y="261" width="6" height="4"/>
<rect x="398" y="261" width="6" height="4"/>
<rect x="418" y="261" width="6" height="4"/>
<rect x="438" y="261" width="6" height="4"/>
<rect x="458" y="261" width="6" height="4"/>
<rect x="478" y="261" width="6" height="4"/>
<rect x="498" y="261" width="6" height="4"/>
<rect x="518" y="261" width="6" height="4"/>
<rect x="538" y="261" width="6" height="4"/>
<rect x="558" y="261" width="6" height="4"/>
<rect x="578" y="261" width="6" height="4"/>
<rect x="598" y="261" width="6" height="4"/>
<rect x="618" y="261" width="6" height="4"/>
<rect x="638" y="261" width="6" height="4"/>
<rect x="658" y="261" width="6" height="4"/>
<rect x="678" y="261" width="6" height="4"/>
<rect x="698" y="261" width="6" height="4"/>
<rect x="718" y="261" width="6" height="4"/>
<rect x="738" y="261" width="6" height="4"/>
<rect x="758" y="261" width="6" height="4"/>
<rect x="778" y="261" width="6" height="4"/>
<rect x="798" y="261" width="6" height="4"/>
<rect x="818" y="261" width="6" height="4"/>
<rect x="838" y="261" width="6" height="4"/>
<rect x="858" y="261" width="6" height="4"/>
<rect x="878" y="261" width="6" height="4"/>
<rect x="898" y="261" width="6" height="4"/>
<rect x="918" y="261" width="6" height="4"/>
<rect x="938" y="261" width="6" height="4"/>
<rect x="958" y="261" width="6" height="4"/>
<rect x="978" y="261" width="6" height="4"/>
<rect x="998" y="261" width="6" height="4"/>
<rect x="1018" y="261" width="6" height="4"/>
<rect x="1038" y="261" width="6" height="4"/>
<rect x="1058" y="261" width="6" height="4"/>
<rect x="1078" y="261" width="6" height="4"/>
<rect x="1098" y="261" width="6" height="4"/>
<rect x="1118" y="261" width="6" height="4"/>
<rect x="1138" y="261" width="6" height="4"/>
<rect x="1158" y="261" width="6" height="4"/>
<rect x="1178" y="261" width="6" height="4"/>
<rect x="1198" y="261" width="6" height="4"/>
<rect x="1218" y="261" width="6" height="4"/>
<rect x="1238" y="261" width="6" height="4"/>
<rect x="1258" y="261" width="6" height="4"/>
<rect x="1278" y="261" width="6" height="4"/>
<rect x="1298" y="261" width="6" height="4"/>
<rect x="1318" y="261" width="6" height="4"/>
<rect x="1338" y="261" width="6" height="4"/>
<rect x="1358" y="261" width="6" height="4"/>
<rect x="1378" y="261" width="6" height="4"/>
<rect x="1398" y="261" width="6" height="4"/>
<rect x="1418" y="261" width="6" height="4"/>
<rect x="1438" y="261" width="6" height="4"/>
<rect x="1458" y="261" width="6" height="4"/>
<rect x="1478" y="261" width="6" height="4"/>
<rect x="1498" y="261" width="6" height="4"/>
<rect x="1518" y="261" width="6" height="4"/>
<rect x="1538" y="261" width="6" height="4"/>
<rect x="1558" y="261" width="6" height="4"/>
<rect x="1578" y="261" width="6" height="4"/>
</g>
<g fill="#222222" shape-rendering="crispEdges">
<rect x="112" y="99" width="1493" height="5"/>
<rect x="112" y="1233" width="1493" height="4"/>
<rect x="112" y="99" width="4" height="1138"/>
<rect x="1601" y="99" width="4" height="1138"/>
<rect x="381" y="104" width="4" height="14"/>
<rect x="381" y="1219" width="4" height="14"/>
<rect x="650" y="104" width="4" height="14"/>
<rect x="650" y="1219" width="4" height="14"/>
<rect x="919" y="104" width="4" height="14"/>
<rect x="919" y="1219" width="4" height="14"/>
<rect x="1188" y="104" width="4" height="14"/>
<rect x="1188" y="1219" width="4" height="14"/>
<rect x="1457" y="104" width="4" height="14"/>
<rect x="1457" y="1219" width="4" height="14"/>
<rect x="116" y="1071" width="15" height="4"/>
<rect x="1586" y="1071" width="15" height="4"/>
<rect x="116" y="909" width="15" height="4"/>
<rect x="1586" y="909" width="15" height="4"/>
<rect x="116" y="747" width="15" height="4"/>
<rect x="1586" y="747" width="15" height="4"/>
<rect x="116" y="585" width="15" height="4"/>
<rect x="1586" y="585" width="15" height="4"/>
<rect x="116" y="423" width="15" height="4"/>
<rect x="1586" y="423" width="15" height="4"/>
<rect x="116" y="261" width="15" height="4"/>
<rect x="1586" y="261" width="15" height="4"/>
</g>
<polyline points="114.0,1221.2 200.1,1203.7 279.4,1187.4 360.1,1167.7 444.9,1148.6 610.3,1112.5 775.7,1076.1 941.2,1039.3 1106.6,1001.5 1272.7,963.9 1437.5,926.9 1603.0,890.9" fill="none" stroke="#000000" stroke-width="11" stroke-dasharray="11 9" stroke-linejoin="miter" shape-rendering="crispEdges"/>
<polyline points="114.0,1209.6 200.1,1178.7 279.4,1150.2 360.1,1118.1 444.9,1084.3 610.3,1018.4 775.7,954.1 941.2,890.3 1106.6,823.7 1272.7,760.2 1437.5,694.6 1603.0,631.0" fill="none" stroke="#ff0000" stroke-width="8" stroke-dasharray="51 29" stroke-linejoin="miter" shape-rendering="crispEdges"/>
<polyline points="114.0,1204.0 200.1,1167.1 279.4,1133.0 360.1,1098.9 444.9,1062.8 610.3,992.1 775.7,922.9 941.2,854.0 1106.6,783.5 1272.7,712.3 1437.5,641.1 1603.0,569.5" fill="none" stroke="#0000ff" stroke-width="8" stroke-dasharray="41 14 11 14" stroke-linejoin="miter" shape-rendering="crispEdges"/>
<polyline points="114.0,1198.6 200.1,1156.0 279.4,1116.8 360.1,1079.5 444.9,1040.7 610.3,965.1 775.7,889.4 941.2,811.9 1106.6,733.4 1272.7,654.9 1437.5,577.2 1603.0,495.0" fill="none" stroke="#00ff00" stroke-width="8" stroke-linejoin="miter" shape-rendering="crispEdges"/>
<polyline points="114.0,1194.0 200.1,1144.4 279.4,1098.6 360.1,1057.9 444.9,1016.4 610.3,934.9 775.7,851.6 941.2,766.5 1106.6,680.2 1272.7,593.5 1437.5,502.3 1603.0,411.6" fill="none" stroke="#ff00ff" stroke-width="11" stroke-dasharray="41 39" stroke-linejoin="miter" shape-rendering="crispEdges"/>
<polyline points="114.0,1190.5 200.1,1135.5 279.4,1084.9 360.1,1035.3 444.9,987.0 610.3,895.4 775.7,801.8 941.2,705.0 1106.6,610.3 1272.7,513.4 1437.5,410.4 1603.0,309.6" fill="none" stroke="#00ffff" stroke-width="11" stroke-dasharray="41 9 21 9" stroke-linejoin="miter" shape-rendering="crispEdges"/>
<polyline points="114.0,1182.6 200.1,1117.8 279.4,1059.3 360.1,999.8 444.9,939.4 610.3,829.7 775.7,722.3 941.2,612.1 1106.6,495.8 1272.7,384.9 1437.5,263.7 1603.0,142.0" fill="none" stroke="#000000" stroke-width="11" stroke-linejoin="miter" shape-rendering="crispEdges"/>
<g fill="#222222" font-size="66.67">
<text transform="translate(114.0 1326.80) scale(1 1.045)" text-anchor="middle">0</text>
<text transform="translate(383.0 1326.80) scale(1 1.045)" text-anchor="middle">200</text>
<text transform="translate(652.0 1326.80) scale(1 1.045)" text-anchor="middle">400</text>
<text transform="translate(921.0 1326.80) scale(1 1.045)" text-anchor="middle">600</text>
<text transform="translate(1190.0 1326.80) scale(1 1.045)" text-anchor="middle">800</text>
<text transform="translate(1459.0 1326.80) scale(1 1.045)" text-anchor="middle">1000</text>
<text transform="translate(83.5 1261.00) scale(1 1.045)" text-anchor="end">0</text>
<text transform="translate(83.5 1099.07) scale(1 1.045)" text-anchor="end">2</text>
<text transform="translate(83.5 937.14) scale(1 1.045)" text-anchor="end">4</text>
<text transform="translate(83.5 775.21) scale(1 1.045)" text-anchor="end">6</text>
<text transform="translate(83.5 613.29) scale(1 1.045)" text-anchor="end">8</text>
<text transform="translate(83.5 451.36) scale(1 1.045)" text-anchor="end">10</text>
<text transform="translate(83.5 289.43) scale(1 1.045)" text-anchor="end">12</text>
<text transform="translate(83.5 127.50) scale(1 1.045)" text-anchor="end">14</text>
</g>
<text x="858.5" y="75.0" text-anchor="middle" font-size="73.33" font-weight="bold" fill="#000">Fuel consumption rate (g/s)</text>
<text x="858.5" y="1413" text-anchor="middle" font-size="73.33" fill="#222222" letter-spacing="0.55">Torque (Nm)</text>
<rect x="169.0" y="151.5" width="514.6" height="594.4" fill="#fff" stroke="#222222" stroke-width="4.5"/>
<line x1="188" y1="201.5" x2="381" y2="201.5" stroke="#000000" stroke-width="11" stroke-dasharray="11 9" shape-rendering="crispEdges"/>
<text transform="translate(403.5 227.40) scale(1 1.045)" font-size="66.67" fill="#000">650 rpm</text>
<line x1="188" y1="284.0" x2="389" y2="284.0" stroke="#ff0000" stroke-width="8" stroke-dasharray="51 29" shape-rendering="crispEdges"/>
<text transform="translate(403.5 309.73) scale(1 1.045)" font-size="66.67" fill="#000">1200 rpm</text>
<line x1="188" y1="366.0" x2="389" y2="366.0" stroke="#0000ff" stroke-width="8" stroke-dasharray="41 14 11 14" shape-rendering="crispEdges"/>
<text transform="translate(403.5 392.06) scale(1 1.045)" font-size="66.67" fill="#000">1350 rpm</text>
<line x1="188" y1="449.0" x2="389" y2="449.0" stroke="#00ff00" stroke-width="8" shape-rendering="crispEdges"/>
<text transform="translate(403.5 474.39) scale(1 1.045)" font-size="66.67" fill="#000">1500 rpm</text>
<line x1="188" y1="530.5" x2="389" y2="530.5" stroke="#ff00ff" stroke-width="11" stroke-dasharray="41 39" shape-rendering="crispEdges"/>
<text transform="translate(403.5 556.72) scale(1 1.045)" font-size="66.67" fill="#000">1650 rpm</text>
<line x1="188" y1="613.5" x2="389" y2="613.5" stroke="#00ffff" stroke-width="11" stroke-dasharray="41 9 21 9" shape-rendering="crispEdges"/>
<text transform="translate(403.5 639.05) scale(1 1.045)" font-size="66.67" fill="#000">1800 rpm</text>
<line x1="188" y1="695.5" x2="389" y2="695.5" stroke="#000000" stroke-width="11" shape-rendering="crispEdges"/>
<text transform="translate(403.5 721.38) scale(1 1.045)" font-size="66.67" fill="#000">2100 rpm</text>
</svg>
</body></html>
